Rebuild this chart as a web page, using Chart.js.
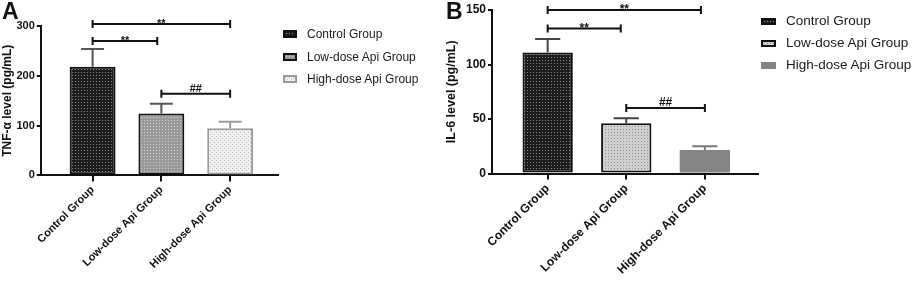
<!DOCTYPE html>
<html>
<head>
<meta charset="utf-8">
<script src="https://cdn.jsdelivr.net/npm/chart.js@4/dist/chart.umd.min.js"></script>
<style>
  body { margin: 0; background: #fff; }
  #wrap { position: relative; width: 913px; height: 283px; overflow: hidden; }
  canvas.chart { position: absolute; top: 0; }
  .tag { position: absolute; top: 0; font: bold 23px "Liberation Sans", Arial, sans-serif; line-height: 1; color: #111; }
  .legend { position: absolute; font-family: "Liberation Sans", Arial, sans-serif; color: #1a1a1a; white-space: nowrap; }
  .legend div { display: flex; align-items: center; }
  .legend canvas { margin-right: 10px; }
</style>
</head>
<body>
<div id="wrap">
  <canvas class="chart" id="tnf" width="440" height="283" style="left:0"></canvas>
  <canvas class="chart" id="il6" width="473" height="283" style="left:440px"></canvas>
  <div class="tag" style="left:2px">A</div>
  <div class="tag" style="left:446px">B</div>
  <div class="legend" id="tnfLegend" style="left:283px; top:23px; font-size:12px; line-height:22.5px"></div>
  <div class="legend" id="il6Legend" style="left:761px; top:10px; font-size:13.5px; line-height:22px"></div>
</div>
<script>
const categories = ['Control Group', 'Low-dose Api Group', 'High-dose Api Group'];

const tnfValues = [218, 124.5, 95];
const tnfErrors = [36, 19.5, 13];
const tnfSigFrom = [0, 0, 1];
const tnfSigTo = [2, 0.94, 2];
const tnfSigAt = [304, 270, 164];
const tnfSigText = ['**', '**', '##'];

const il6Values = [111, 46, 21.5];
const il6Errors = [12.3, 4.7, 3.5];
const il6SigFrom = [0, 0, 1];
const il6SigTo = [1.95, 0.93, 2];
const il6SigAt = [150, 133, 60];
const il6SigText = ['**', '**', '##'];

const FONT = '"Liberation Sans", Arial, sans-serif';

function dotPattern(bg, dot, step, stagger) {
  const c = document.createElement('canvas');
  c.width = step * 2; c.height = step * 2;
  const g = c.getContext('2d');
  g.fillStyle = bg;
  g.fillRect(0, 0, c.width, c.height);
  g.fillStyle = dot;
  g.fillRect(0, 0, 1, 1);
  if (stagger) {
    g.fillRect(step, step, 1, 1);
  } else {
    g.fillRect(step, 0, 1, 1);
    g.fillRect(0, step, 1, 1);
    g.fillRect(step, step, 1, 1);
  }
  return g.createPattern(c, 'repeat');
}

// error bars drawn up from the bar top
const errorBars = {
  id: 'errorBars',
  afterDatasetsDraw(chart, args, o) {
    const { ctx } = chart;
    const y = chart.scales.y;
    ctx.save();
    ctx.lineWidth = 2;
    chart.data.datasets.forEach((ds, i) => {
      const bar = chart.getDatasetMeta(i).data[0];
      const top = y.getPixelForValue(ds.data[0].y + o.errors[i]);
      const half = bar.width * 0.25;
      ctx.strokeStyle = o.colors[i];
      ctx.beginPath();
      ctx.moveTo(bar.x, bar.y);
      ctx.lineTo(bar.x, top);
      ctx.moveTo(bar.x - half, top);
      ctx.lineTo(bar.x + half, top);
      ctx.stroke();
    });
    ctx.restore();
  }
};

// significance brackets
const sigBrackets = {
  id: 'sigBrackets',
  afterDatasetsDraw(chart, args, o) {
    const { ctx } = chart;
    const { x, y } = chart.scales;
    ctx.save();
    ctx.strokeStyle = '#111';
    ctx.fillStyle = '#111';
    ctx.lineWidth = 2;
    ctx.textAlign = 'center';
    ctx.textBaseline = 'alphabetic';
    o.from.forEach((f, i) => {
      const x1 = x.getPixelForValue(f);
      const x2 = x.getPixelForValue(o.to[i]);
      const yy = y.getPixelForValue(o.at[i]);
      ctx.beginPath();
      ctx.moveTo(x1, yy); ctx.lineTo(x2, yy);
      ctx.moveTo(x1, yy - 4); ctx.lineTo(x1, yy + 4);
      ctx.moveTo(x2, yy - 4); ctx.lineTo(x2, yy + 4);
      ctx.stroke();
      const star = o.text[i].startsWith('*');
      ctx.font = 'bold ' + o.fontSize + 'px ' + FONT;
      ctx.fillText(o.text[i], (x1 + x2) / 2, star ? yy + 3 : yy - 2);
    });
    ctx.restore();
  }
};

// html legend built from the chart's own legend items
function htmlLegend(chart, id, box) {
  const el = document.getElementById(id);
  const items = Chart.defaults.plugins.legend.labels.generateLabels(chart);
  items.forEach(item => {
    const row = document.createElement('div');
    const sw = document.createElement('canvas');
    sw.width = box[0]; sw.height = box[1];
    const g = sw.getContext('2d');
    g.fillStyle = item.fillStyle;
    g.fillRect(0, 0, box[0], box[1]);
    if (item.lineWidth) {
      g.strokeStyle = item.strokeStyle;
      g.lineWidth = 2;
      g.strokeRect(1, 1, box[0] - 2, box[1] - 2);
    }
    row.appendChild(sw);
    row.appendChild(document.createTextNode(item.text));
    el.appendChild(row);
  });
}

function makeChart(id, cfg) {
  const datasets = categories.map((c, i) => ({
    label: c,
    data: [{ x: i, y: cfg.values[i] }],
    backgroundColor: cfg.fills[i],
    borderColor: cfg.borders[i],
    borderWidth: cfg.borderWidths[i],
    borderSkipped: false,
    grouped: false,
    categoryPercentage: 1,
    barPercentage: cfg.barPct
  }));
  return new Chart(document.getElementById(id), {
    type: 'bar',
    data: { datasets },
    plugins: [errorBars, sigBrackets],
    options: {
      responsive: false,
      animation: false,
      devicePixelRatio: 1,
      layout: { padding: cfg.padding },
      plugins: {
        tooltip: { enabled: false },
        legend: { display: false },
        errorBars: { errors: cfg.errors, colors: cfg.errColors },
        sigBrackets: { from: cfg.sigFrom, to: cfg.sigTo, at: cfg.sigAt, text: cfg.sigText, fontSize: cfg.tickSize }
      },
      scales: {
        x: {
          type: 'linear',
          offset: false,
          min: cfg.xRange[0],
          max: cfg.xRange[1],
          afterBuildTicks: (s) => { s.ticks = categories.map((c, i) => ({ value: i })); },
          ticks: {
            autoSkip: false,
            maxRotation: 45,
            minRotation: 45,
            padding: 2,
            color: '#111',
            font: { family: FONT, size: cfg.tickSize, weight: 'bold' },
            callback: (v) => categories[v]
          },
          grid: { offset: false, drawOnChartArea: false, color: '#111', lineWidth: 2, tickLength: 6 },
          border: { color: '#111', width: 2 }
        },
        y: {
          min: 0,
          max: cfg.yMax,
          ticks: {
            stepSize: cfg.yStep,
            padding: 2,
            color: '#111',
            font: { family: FONT, size: cfg.tickSize, weight: 'bold' }
          },
          grid: { drawOnChartArea: false, color: '#111', lineWidth: 2, tickLength: 4 },
          border: { color: '#111', width: 2 },
          title: {
            display: true,
            text: cfg.yTitle,
            color: '#111',
            padding: cfg.titlePad,
            font: { family: FONT, size: cfg.titleSize, weight: 'bold' }
          }
        }
      }
    }
  });
}

const tnfChart = makeChart('tnf', {
  values: tnfValues,
  errors: tnfErrors,
  sigFrom: tnfSigFrom, sigTo: tnfSigTo, sigAt: tnfSigAt, sigText: tnfSigText,
  fills: [dotPattern('#1c1c1c', '#8a8a8a', 3, false), dotPattern('#9a9a9a', '#cfcfcf', 3, false), dotPattern('#f1f1f1', '#b8b8b8', 2, true)],
  borders: ['#111', '#111', '#9a9a9a'],
  borderWidths: [2, 2, 2],
  errColors: ['#555', '#555', '#9a9a9a'],
  barPct: 0.667,
  xRange: [-0.754, 2.696],
  yMax: 300, yStep: 100,
  yTitle: 'TNF-α level (pg/mL)',
  tickSize: 11, titleSize: 12, titlePad: { top: 0, bottom: 0 },
  padding: { top: 26, bottom: 10, left: 0, right: 162 }
});
htmlLegend(tnfChart, 'tnfLegend', [14, 8]);

const il6Chart = makeChart('il6', {
  values: il6Values,
  errors: il6Errors,
  sigFrom: il6SigFrom, sigTo: il6SigTo, sigAt: il6SigAt, sigText: il6SigText,
  fills: [dotPattern('#1c1c1c', '#8a8a8a', 3, false), dotPattern('#d0d0d0', '#8e8e8e', 3, false), '#858585'],
  borders: ['#111', '#111', '#858585'],
  borderWidths: [2, 2, 0],
  errColors: ['#444', '#444', '#777'],
  barPct: 0.64,
  xRange: [-0.708, 2.676],
  yMax: 150, yStep: 50,
  yTitle: 'IL-6 level (pg/mL)',
  tickSize: 12, titleSize: 12.5, titlePad: { top: 4, bottom: 5 },
  padding: { top: 10, bottom: 4, left: 0, right: 155 }
});
htmlLegend(il6Chart, 'il6Legend', [15, 7]);
</script>
</body>
</html>
